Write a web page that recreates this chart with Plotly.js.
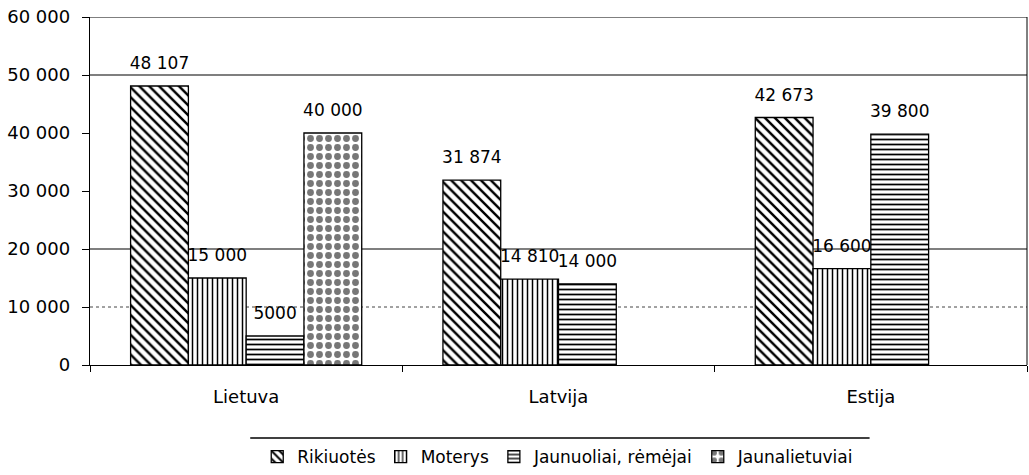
<!DOCTYPE html>
<html><head><meta charset="utf-8">
<script src="https://cdn.plot.ly/plotly-3.0.1.min.js"></script>
<style>html,body{margin:0;padding:0;background:#fff}#c{width:1029px;height:475px}</style>
</head><body><div id="c"></div>
<script>
const categories = ["Lietuva", "Latvija", "Estija"];
const seriesNames = ["Rikiuotės", "Moterys", "Jaunuoliai, rėmėjai", "Jaunalietuviai"];
const rikiuotes = [48107, 31874, 42673];
const moterys = [15000, 14810, 16600];
const jaunuoliai = [5000, 14000, 39800];
const jaunalietuviai = [40000, null, null];
const yTicks = [0, 10000, 20000, 30000, 40000, 50000, 60000];
const solidGrid = [20000, 50000, 60000];
const dottedGrid = [10000];

function fmt(v) {
  if (v === null) return "";
  if (v < 10000) return String(v);
  return String(v).replace(/\B(?=(\d{3})+(?!\d))/g, " ");
}

const patterns = ["\\", "|", "-", "."];
const pSize = [7, 5, 5, 9];
const pColor = ["#000", "#000", "#000", "#777"];
const pSolid = [0.35, 0.3, 0.35, 0.45];
const values = [rikiuotes, moterys, jaunuoliai, jaunalietuviai];
const font = "DejaVu Sans, sans-serif";
const fs = 18;
const lfs = 17;

const traces = values.map((vals, i) => ({
  type: "bar",
  name: seriesNames[i],
  x: categories,
  y: vals,
  text: vals.map(v => v === null ? "" : "<span style='font-size:17px'>" + fmt(v) + "</span><br> "),
  textposition: "outside",
  constraintext: "none",
  textfont: {family: font, size: 9, color: "#000"},
  cliponaxis: false,
  marker: {
    color: "#fff",
    line: {color: "#000", width: 1.3},
    pattern: {shape: patterns[i], fgcolor: pColor[i], bgcolor: "#fff", size: pSize[i], solidity: pSolid[i]}
  },
  hoverinfo: "x+y"
}));

const shapes = [];
solidGrid.forEach(v => shapes.push({type: "line", xref: "paper", x0: 0, x1: 1, yref: "y", y0: v, y1: v, line: {color: "#000", width: 1.2}, layer: "below"}));
dottedGrid.forEach(v => shapes.push({type: "line", xref: "paper", x0: 0, x1: 1, yref: "y", y0: v, y1: v, line: {color: "#444", width: 1, dash: "dot"}, layer: "below"}));
shapes.push({type: "line", xref: "paper", yref: "paper", x0: 1, x1: 1, y0: 0, y1: 1, line: {color: "#000", width: 1}});
shapes.push({type: "line", xref: "paper", yref: "paper", x0: 0.171, x1: 0.832, y0: -0.21, y1: -0.21, line: {color: "#000", width: 1.5}});

const layout = {
  width: 1029, height: 475,
  margin: {l: 90, r: 2, t: 17, b: 110},
  paper_bgcolor: "#fff", plot_bgcolor: "#fff",
  font: {family: font, size: fs, color: "#000"},
  barmode: "group", bargap: 0.26, bargroupgap: 0,
  showlegend: true,
  legend: {orientation: "h", xref: "container", yref: "container", x: 0.5425, xanchor: "center",
           y: 0.0379, yanchor: "middle",
           font: {family: font, size: lfs, color: "#000"}, itemwidth: 30, tracegroupgap: 0},
  xaxis: {type: "category", showline: true, linecolor: "#000", linewidth: 1.2,
          ticks: "outside", ticklen: 6, tickcolor: "#000", tickson: "boundaries",
          ticklabelstandoff: 15, tickfont: {family: font, size: fs}, showgrid: false, zeroline: false},
  yaxis: {range: [0, 60000], tickvals: yTicks, ticktext: yTicks.map(fmt),
          showline: true, linecolor: "#000", linewidth: 1.2, ticks: "outside", ticklen: 7,
          tickcolor: "#000", ticklabelstandoff: 8, showgrid: false, zeroline: false,
          tickfont: {family: font, size: fs}},
  shapes: shapes
};
Plotly.newPlot("c", traces, layout, {staticPlot: true});
</script></body></html>
